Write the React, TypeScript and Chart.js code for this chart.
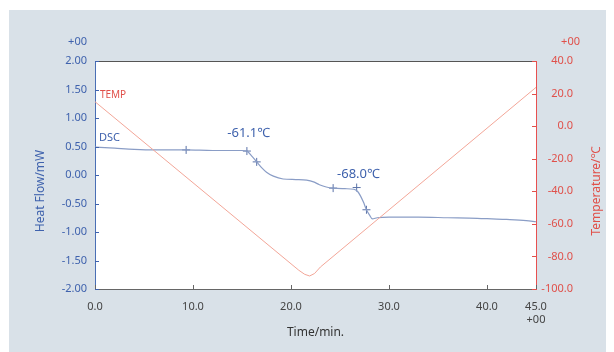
import React, { useEffect, useRef } from "react";
import { Chart, registerables } from "chart.js";

Chart.register(...registerables);

// ---- data ----
const dscTime = [0, 2, 4, 6, 9.3, 12, 15, 15.5, 16, 16.5, 17, 17.5, 18.2, 19.2, 20.5, 21.6, 22.3, 22.9, 23.6, 24.3, 25.5, 26.4, 26.8, 27.1, 27.4, 27.7, 28.0, 28.3, 28.8, 30, 33, 36, 39, 40.5, 42, 44, 45];
const dscHeatFlow = [0.49, 0.47, 0.45, 0.44, 0.44, 0.43, 0.43, 0.42, 0.33, 0.23, 0.13, 0.05, -0.02, -0.07, -0.08, -0.09, -0.12, -0.17, -0.21, -0.23, -0.24, -0.25, -0.29, -0.37, -0.48, -0.61, -0.70, -0.77, -0.75, -0.74, -0.74, -0.75, -0.76, -0.77, -0.78, -0.80, -0.82];

const tempTime = [0, 20.8, 21.4, 21.9, 22.4, 23, 45];
const tempValue = [15, -88.5, -91, -92, -90.5, -86.5, 23.8];

const markerTime = [9.3, 15.5, 16.5, 24.3, 26.7, 27.7];
const markerHeatFlow = [0.44, 0.42, 0.23, -0.23, -0.22, -0.61];

const xTicks = [0, 10, 20, 30, 40, 45];
const yLeftTicks = [-2, -1.5, -1, -0.5, 0, 0.5, 1, 1.5, 2];
const yRightTicks = [-100, -80, -60, -40, -20, 0, 20, 40];

const annoText = ["TEMP", "DSC", "-61.1℃", "-68.0℃"];
const annoTime = [0.5, 0.4, 13.5, 24.7];
const annoHeatFlow = [1.40, 0.65, 0.74, 0.02];

const BLUE = "#3f62ad";
const RED = "#e0504a";
const FONT = "'Noto Sans', 'Open Sans', sans-serif";

const decorPlugin = {
  id: "decor",
  beforeDraw(chart: any) {
    const { ctx, width, height, chartArea } = chart;
    ctx.save();
    ctx.fillStyle = "#ffffff";
    ctx.fillRect(0, 0, width, height);
    ctx.fillStyle = "#d9e1e8";
    ctx.fillRect(1, 2, width - 1, height - 2);
    ctx.fillStyle = "#ffffff";
    ctx.fillRect(chartArea.left, chartArea.top, chartArea.right - chartArea.left, chartArea.bottom - chartArea.top);
    ctx.restore();
  },
  afterDraw(chart: any) {
    const { ctx, chartArea, scales } = chart;
    const { left, right, top, bottom } = chartArea;
    ctx.save();
    // top border
    ctx.strokeStyle = "#555555";
    ctx.lineWidth = 1;
    ctx.beginPath();
    ctx.moveTo(left, top + 0.5);
    ctx.lineTo(right, top + 0.5);
    ctx.stroke();
    // inside ticks
    const tl = 4;
    ctx.strokeStyle = BLUE;
    scales.y.ticks.forEach((t: any) => {
      const p = Math.round(scales.y.getPixelForValue(t.value)) + 0.5;
      ctx.beginPath();
      ctx.moveTo(left, p);
      ctx.lineTo(left + tl, p);
      ctx.stroke();
    });
    ctx.strokeStyle = RED;
    scales.y2.ticks.forEach((t: any) => {
      const p = Math.round(scales.y2.getPixelForValue(t.value)) + 0.5;
      ctx.beginPath();
      ctx.moveTo(right, p);
      ctx.lineTo(right - tl, p);
      ctx.stroke();
    });
    ctx.strokeStyle = "#666666";
    scales.x.ticks.forEach((t: any) => {
      const p = Math.round(scales.x.getPixelForValue(t.value)) + 0.5;
      ctx.beginPath();
      ctx.moveTo(p, bottom);
      ctx.lineTo(p, bottom - tl);
      ctx.stroke();
    });
    // exponent labels
    ctx.font = `11px ${FONT}`;
    ctx.textBaseline = "middle";
    ctx.textAlign = "right";
    ctx.fillStyle = BLUE;
    ctx.fillText("+00", left - 8, top - 19);
    ctx.fillStyle = RED;
    ctx.fillText("+00", right + 44, top - 19);
    // axis titles
    ctx.font = `12px ${FONT}`;
    ctx.textAlign = "center";
    ctx.fillStyle = BLUE;
    ctx.save();
    ctx.translate(33, 183);
    ctx.rotate(-Math.PI / 2);
    ctx.fillText("Heat Flow/mW", 0, 0);
    ctx.restore();
    ctx.fillStyle = RED;
    ctx.save();
    ctx.translate(589, 183);
    ctx.rotate(-Math.PI / 2);
    ctx.fillText("Temperature/℃", 0, 0);
    ctx.restore();
    ctx.fillStyle = "#333333";
    ctx.fillText("Time/min.", (left + right) / 2, 325);
    // annotations
    annoText.forEach((txt, i) => {
      const x = scales.x.getPixelForValue(annoTime[i]);
      const y = scales.y.getPixelForValue(annoHeatFlow[i]);
      ctx.textAlign = "left";
      if (i === 0) {
        ctx.fillStyle = RED;
        ctx.font = `10px ${FONT}`;
      } else if (i === 1) {
        ctx.fillStyle = BLUE;
        ctx.font = `11px ${FONT}`;
      } else {
        ctx.fillStyle = BLUE;
        ctx.font = `13px ${FONT}`;
      }
      ctx.fillText(txt, x, y);
    });
    ctx.restore();
  },
};

export default function App() {
  const ref = useRef<HTMLCanvasElement | null>(null);
  useEffect(() => {
    if (!ref.current) return;
    const chart = new Chart(ref.current, {
      type: "line",
      data: {
        datasets: [
          {
            label: "TEMP",
            data: tempTime.map((t, i) => ({ x: t, y: tempValue[i] })),
            yAxisID: "y2",
            borderColor: "#f3a698",
            borderWidth: 1,
            pointRadius: 0,
            tension: 0,
          },
          {
            label: "DSC",
            data: dscTime.map((t, i) => ({ x: t, y: dscHeatFlow[i] })),
            yAxisID: "y",
            borderColor: "#8a9dc6",
            borderWidth: 1.2,
            pointRadius: 0,
            cubicInterpolationMode: "monotone",
          },
          {
            label: "markers",
            data: markerTime.map((t, i) => ({ x: t, y: markerHeatFlow[i] })),
            yAxisID: "y",
            showLine: false,
            pointStyle: "cross",
            pointRadius: 4,
            pointBorderColor: "#5a72a8",
            pointBorderWidth: 1,
          },
        ],
      },
      options: {
        responsive: false,
        animation: false,
        events: [],
        layout: { padding: { top: 53, left: 0, right: 41, bottom: 0 } },
        plugins: { legend: { display: false }, tooltip: { enabled: false } },
        scales: {
          x: {
            type: "linear",
            min: 0,
            max: 45,
            afterBuildTicks: (s: any) => {
              s.ticks = xTicks.map((v) => ({ value: v }));
            },
            afterFit: (s: any) => {
              s.height = 63;
            },
            grid: { display: true, drawOnChartArea: false, drawTicks: false },
            border: { display: true, color: "#666666", width: 1 },
            ticks: {
              autoSkip: false,
              maxRotation: 0,
              padding: 11,
              color: "#444444",
              font: { family: FONT, size: 11 },
              callback: (v: any) => (Number(v) === 45 ? ["45.0", "+00"] : Number(v).toFixed(1)),
            },
          },
          y: {
            type: "linear",
            position: "left",
            min: -2,
            max: 2,
            afterBuildTicks: (s: any) => {
              s.ticks = yLeftTicks.map((v) => ({ value: v }));
            },
            afterFit: (s: any) => {
              s.width = 87;
            },
            grid: { display: true, drawOnChartArea: false, drawTicks: false },
            border: { display: true, color: "#4a6fb5", width: 1 },
            ticks: {
              padding: 8,
              color: BLUE,
              font: { family: FONT, size: 11 },
              callback: (v: any) => Number(v).toFixed(2),
            },
          },
          y2: {
            type: "linear",
            position: "right",
            min: -100,
            max: 40,
            afterBuildTicks: (s: any) => {
              s.ticks = yRightTicks.map((v) => ({ value: v }));
            },
            afterFit: (s: any) => {
              s.width = 37;
            },
            grid: { display: true, drawOnChartArea: false, drawTicks: false },
            border: { display: true, color: "#e85050", width: 1 },
            ticks: {
              crossAlign: "far",
              color: RED,
              font: { family: FONT, size: 11 },
              callback: (v: any) => Number(v).toFixed(1),
            },
          },
        },
      },
      plugins: [decorPlugin],
    } as any);
    return () => chart.destroy();
  }, []);
  return (
    <div style={{ width: 606, height: 344 }}>
      <canvas ref={ref} width={606} height={344} style={{ display: "block" }} />
    </div>
  );
}
